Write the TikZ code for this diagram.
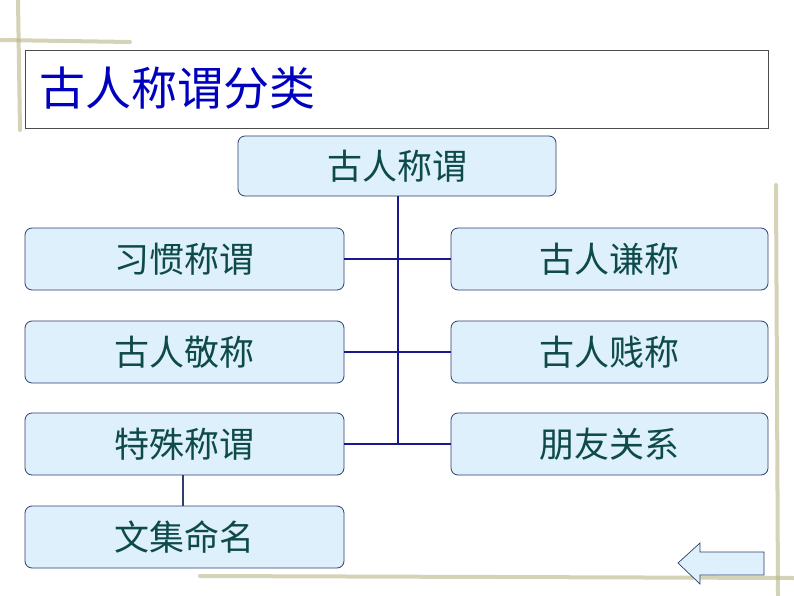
\documentclass[tikz,border=0pt]{standalone}
\usepackage{fontspec}
\newfontfamily\cjk{Noto Sans CJK SC}
\usetikzlibrary{positioning}
\definecolor{boxfill}{HTML}{DDF0FB}
\definecolor{boxline}{HTML}{2F3F6F}
\definecolor{txt}{HTML}{0E4A4A}
\definecolor{vine}{HTML}{B8B488}
\tikzset{
  cbox/.style={draw=boxline, fill=boxfill, rounded corners=7pt, line width=0.8pt, font=\cjk\fontsize{35}{38}\selectfont, text=txt},
  conn/.style={draw=blue!50!black!90, line width=2.2pt},
}
\begin{document}
\begin{tikzpicture}[x=1pt,y=-1pt]
\useasboundingbox (0,0) rectangle (794,596);
\fill[white] (0,0) rectangle (794,596);
% decorative vines
\draw[vine, line width=4pt, opacity=0.6, line cap=round] (776,185) -- (778,596);
\draw[vine, line width=4pt, opacity=0.6, line cap=round] (200,576) -- (794,578);
\draw[vine, line width=4pt, opacity=0.6, line cap=round] (0,40) -- (130,42);
\draw[vine, line width=4pt, opacity=0.6, line cap=round] (18,0) -- (20,130);
% title
\node[draw=black!70, line width=0.8pt, minimum width=743, minimum height=78, anchor=north west, inner sep=0] (title) at (25,50) {};
\node[anchor=west, text=blue!75!black, font=\cjk\fontsize{46}{50}\selectfont] (titletext) at (36,88) {古人称谓分类};
% boxes
\node[cbox, minimum width=318, minimum height=60] (root) at (397,166) {古人称谓};
\node[cbox, minimum width=319, minimum height=62] (l1) at (184.5,259) {习惯称谓};
\node[cbox, minimum width=319, minimum height=62] (l2) at (184.5,352) {古人敬称};
\node[cbox, minimum width=319, minimum height=62] (l3) at (184.5,444) {特殊称谓};
\node[cbox, minimum width=319, minimum height=62] (l4) at (184.5,537) {文集命名};
\node[cbox, minimum width=317, minimum height=62] (r1) at (609.5,259) {古人谦称};
\node[cbox, minimum width=317, minimum height=62] (r2) at (609.5,352) {古人贱称};
\node[cbox, minimum width=317, minimum height=62] (r3) at (609.5,444) {朋友关系};
% connectors
\coordinate (tb) at (398,444);
\draw[conn] (root.south -| tb) -- (tb);
\draw[conn] (l1.east) -- (r1.west);
\draw[conn] (l2.east) -- (r2.west);
\draw[conn] (l3.east) -- (r3.west);
\draw[draw=boxline, line width=1.5pt] ([xshift=-1.5pt]l3.south) -- ([xshift=-1.5pt]l4.north);
% back arrow
\draw[draw=boxline, fill=boxfill, line width=0.7pt] (678,563) -- (700,543) -- (700,552) -- (764,552) -- (764,575) -- (700,575) -- (700,584) -- cycle;
\end{tikzpicture}
\end{document}
